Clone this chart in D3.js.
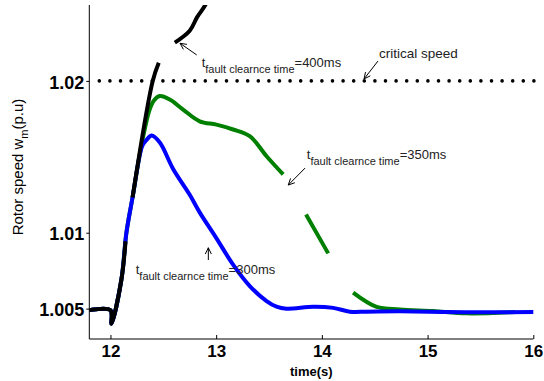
<!DOCTYPE html>
<html>
<head>
<meta charset="utf-8">
<script src="https://cdn.jsdelivr.net/npm/d3@7"></script>
<style>
  body { margin: 0; background: #fff; }
  svg { display: block; font-family: Arial, "Liberation Sans", Helvetica, sans-serif; }
</style>
</head>
<body>
<svg id="chart" width="544" height="381"></svg>
<script>
// x ticks / y ticks
const xTicks = [12, 13, 14, 15, 16];
const yTicks = [1.005, 1.01, 1.02];
const criticalSpeed = 1.02;

// time (s) and rotor speed (p.u), null = gap in the trace
const time300 = [11.8, 12.0, 12.01, 12.104, 12.151, 12.209, 12.30, 12.34, 12.39, 12.467, 12.593, 12.75, 12.844, 13.003, 13.16, 13.318, 13.477, 13.571, 13.666, 13.918, 14.107, 14.265, 14.42, 14.74, 15.37, 16.0];
const speed300 = [1.0049, 1.0049, 1.0040, 1.00693, 1.0100, 1.01232, 1.0157, 1.0161, 1.0164, 1.01594, 1.01420, 1.01250, 1.01134, 1.00963, 1.0079, 1.00649, 1.0055, 1.00513, 1.0050, 1.00512, 1.00505, 1.00480, 1.0048, 1.00482, 1.00476, 1.00478];

const time350 = [11.8, 12.0, 12.01, 12.104, 12.151, 12.209, 12.30, 12.37, 12.41, 12.467, 12.561, 12.687, 12.844, 13.003, 13.16, 13.318, 13.477, 13.634, 13.74, 13.85, 14.06, 14.18, 14.296, 14.518, 14.738, 15.053, 15.37, 15.827];
const speed350 = [1.0049, 1.0049, 1.0040, 1.00693, 1.0100, 1.01232, 1.0160, 1.0181, 1.0187, 1.0190, 1.01877, 1.01811, 1.01734, 1.01712, 1.0168, 1.01636, 1.01504, 1.01384, null, 1.0112, 1.00864, null, 1.00605, 1.00511, 1.00495, 1.00484, 1.00469, 1.00478];

const time400 = [11.8, 12.0, 12.01, 12.104, 12.143, 12.175, 12.209, 12.40, 12.457, 12.53, 12.609, 12.75, 12.82, 12.893, 12.95];
const speed400 = [1.0049, 1.0049, 1.0040, 1.00693, 1.00944, null, 1.01232, 1.0200, 1.0212, null, 1.02252, 1.0233, 1.0242, 1.02495, 1.0258];

const svg = d3.select("#chart");
const margin = { left: 89.3, right: 10.7, top: 5, bottom: 42 };
const width = 544 - margin.left - margin.right;
const height = 381 - margin.top - margin.bottom;

const x = d3.scaleLinear().domain([11.8, 16]).range([0, width]);
const y = d3.scaleLinear().domain([1.003, 1.025]).range([height, 0]);

const g = svg.append("g").attr("transform", `translate(${margin.left},${margin.top})`);

g.append("clipPath").attr("id", "clip")
  .append("rect").attr("x", 0).attr("y", 0).attr("width", width + 2).attr("height", height);

// critical speed dotted line
g.append("line")
  .attr("x1", x(11.8) + 10).attr("x2", x(16) + 2)
  .attr("y1", y(criticalSpeed)).attr("y2", y(criticalSpeed))
  .attr("stroke", "#000").attr("stroke-width", 3.6)
  .attr("stroke-linecap", "round")
  .attr("stroke-dasharray", "0,10.6");

const line = d3.line()
  .defined((d) => d[1] != null)
  .x((d) => x(d[0]))
  .y((d) => y(d[1]))
  .curve(d3.curveCatmullRom.alpha(0.5));

const series = [
  { name: "350ms", color: "#008000", t: time350, v: speed350 },
  { name: "300ms", color: "#0000ff", t: time300, v: speed300 },
  { name: "400ms", color: "#000000", t: time400, v: speed400 },
];

g.append("g").attr("clip-path", "url(#clip)")
  .selectAll("path")
  .data(series)
  .join("path")
  .attr("fill", "none")
  .attr("stroke", (d) => d.color)
  .attr("stroke-width", 4)
  .attr("stroke-linejoin", "round")
  .attr("d", (d) => line(d.t.map((t, i) => [t, d.v[i]])));

// axes
const xAxis = d3.axisBottom(x).tickValues(xTicks).tickSize(-4).tickPadding(6).tickFormat(d3.format("d"));
const xg = g.append("g").attr("transform", `translate(0,${height})`).call(xAxis);
xg.select(".domain").attr("stroke", "#000").attr("d", `M0,0H${width}`);
xg.selectAll("text").attr("font-size", 17).attr("font-weight", "bold").attr("fill", "#000")
  .attr("font-family", "Arial, 'Liberation Sans', sans-serif");

const yAxis = d3.axisLeft(y).tickValues(yTicks).tickSize(3).tickPadding(2)
  .tickFormat((d) => d3.format("")(+d.toFixed(3)));
const yg = g.append("g").call(yAxis);
yg.select(".domain").attr("stroke", "#000").attr("d", `M0,${height}V0`);
yg.selectAll("text").attr("font-size", 18).attr("font-weight", "bold").attr("fill", "#000")
  .attr("dy", "0.4em")
  .attr("font-family", "Arial, 'Liberation Sans', sans-serif");

// axis labels
svg.append("text")
  .attr("x", margin.left + width / 2).attr("y", 376)
  .attr("text-anchor", "middle")
  .attr("font-size", 13).attr("font-weight", "bold")
  .text("time(s)");

const ylab = svg.append("text")
  .attr("transform", "translate(23,167) rotate(-90)")
  .attr("text-anchor", "middle")
  .attr("font-size", 15);
ylab.append("tspan").text("Rotor speed w");
ylab.append("tspan").attr("font-size", 11).attr("dy", 5).text("m");
ylab.append("tspan").attr("dy", -5).text("(p.u)");

// annotations
function arrow(t0, v0, t1, v1) {
  const x0 = x(t0), y0 = y(v0), x1 = x(t1), y1 = y(v1);
  const a = Math.atan2(y1 - y0, x1 - x0);
  const L = 7, w = 0.45;
  g.append("path")
    .attr("fill", "none").attr("stroke", "#000").attr("stroke-width", 1)
    .attr("d", `M${x0},${y0}L${x1},${y1}` +
      `M${x1 - L * Math.cos(a - w)},${y1 - L * Math.sin(a - w)}L${x1},${y1}` +
      `L${x1 - L * Math.cos(a + w)},${y1 - L * Math.sin(a + w)}`);
}

function faultLabel(t, v, ms) {
  const txt = g.append("text").attr("x", x(t)).attr("y", y(v)).attr("font-size", 13).attr("fill", "#222");
  txt.append("tspan").text("t");
  txt.append("tspan").attr("font-size", 11).attr("dy", 6).text("fault clearnce time");
  txt.append("tspan").attr("dy", -6).text("=" + ms);
}

faultLabel(12.863, 1.02092, "400ms");
arrow(12.816, 1.02171, 12.658, 1.02248);

g.append("text").attr("x", x(14.541)).attr("y", y(1.02151))
  .attr("font-size", 13.5).attr("fill", "#222").text("critical speed");
arrow(14.531, 1.02131, 14.399, 1.02013);

faultLabel(13.857, 1.01485, "350ms");
arrow(13.841, 1.01426, 13.682, 1.01314);

faultLabel(12.239, 1.0073, "300ms");
arrow(12.926, 1.0082, 12.926, 1.00901);
</script>
</body>
</html>
